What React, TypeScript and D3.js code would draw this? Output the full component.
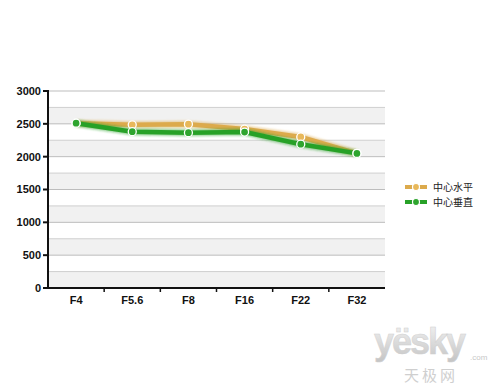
import React from "react";
import * as d3 from "d3";

const categories = ["F4", "F5.6", "F8", "F16", "F22", "F32"];
const horizontal = [2510, 2485, 2495, 2420, 2300, 2050];
const vertical = [2510, 2380, 2365, 2375, 2190, 2050];
const yTicks = [0, 500, 1000, 1500, 2000, 2500, 3000];
const seriesNames = ["中心水平", "中心垂直"];

const W = 500, H = 392;
const left = 48, right = 385, top = 91, bottom = 288;

export default function App() {
  const x = d3.scaleBand<string>().domain(categories).range([left, right]);
  const y = d3.scaleLinear().domain([0, 3000]).range([bottom, top]);
  const line = d3.line<number>()
    .x((_, i) => (x(categories[i]) as number) + x.bandwidth() / 2)
    .y((d) => y(d));
  const series = [
    { name: seriesNames[0], values: horizontal, color: "#dcaa4c", marker: "#e8b85a" },
    { name: seriesNames[1], values: vertical, color: "#27a127", marker: "#2ea52e" },
  ];
  const bands = d3.range(0, 3000, 250);
  const font = "Arial, 'Liberation Sans', sans-serif";
  return (
    <svg width={W} height={H} style={{ position: "absolute", left: 0, top: 0, background: "#fff" }}>
      <defs>
        <linearGradient id="wm" x1="0" y1="0" x2="0" y2="1">
          <stop offset="0" stopColor="#f4f4f4" />
          <stop offset="1" stopColor="#c4c4c4" />
        </linearGradient>
        <filter id="glow" x="-10%" y="-50%" width="120%" height="200%">
          <feGaussianBlur stdDeviation="1.2" />
        </filter>
      </defs>
      {bands.map((b, i) => (
        <rect key={"b" + b} x={left} width={right - left} y={y(b + 250)} height={y(b) - y(b + 250)}
          fill={i % 2 === 0 ? "#f1f1f1" : "#ffffff"} />
      ))}
      {d3.range(250, 3001, 250).map((v) => (
        <line key={"g" + v} x1={left} x2={right} y1={y(v)} y2={y(v)} stroke={v % 500 === 0 ? "#bdbdbd" : "#cfcfcf"} strokeWidth={1} />
      ))}
      {series.map((s) => (
        <g key={s.name}>
          <path d={line(s.values) || ""} fill="none" stroke={s.color} strokeOpacity={0.5} strokeWidth={7} filter="url(#glow)" />
          <path d={line(s.values) || ""} fill="none" stroke={s.color} strokeWidth={4.5} strokeLinejoin="round" />
        </g>
      ))}
      {series.map((s) => (
        <g key={s.name + "m"}>
          {s.values.map((v, i) => (
            <circle key={i} cx={(x(categories[i]) as number) + x.bandwidth() / 2} cy={y(v)} r={4}
              fill={s.marker} stroke="#fff" strokeWidth={1.3} />
          ))}
        </g>
      ))}
      <line x1={left} x2={left} y1={top - 1} y2={bottom + 1} stroke="#111" strokeWidth={2} />
      <line x1={left - 1} x2={right} y1={bottom} y2={bottom} stroke="#111" strokeWidth={2} />
      {yTicks.map((t) => (
        <g key={"yt" + t}>
          <line x1={left - 5} x2={left} y1={y(t)} y2={y(t)} stroke="#111" strokeWidth={2} />
          <text x={left - 7} y={y(t)} dy="0.35em" textAnchor="end" fontFamily={font} fontWeight="bold" fontSize={11} fill="#111">{t}</text>
        </g>
      ))}
      {categories.map((c, i) => (
        <g key={"xt" + c}>
          {i > 0 && <line x1={x(c) as number} x2={x(c) as number} y1={bottom} y2={bottom + 4} stroke="#111" strokeWidth={1.5} />}
          <text x={(x(c) as number) + x.bandwidth() / 2} y={bottom + 16} textAnchor="middle" fontFamily={font} fontWeight="bold" fontSize={11} fill="#111">{c}</text>
        </g>
      ))}
      {series.map((s, i) => (
        <g key={"lg" + s.name} transform={`translate(405, ${187 + i * 15})`}>
          <line x1={0} x2={22} y1={0} y2={0} stroke={s.color} strokeWidth={4} />
          <circle cx={11} cy={0} r={3.5} fill={s.marker} stroke="#fff" strokeWidth={1.2} />
          <text x={28} y={0} dy="0.35em" fontFamily="'Noto Sans CJK SC', sans-serif" fontSize={10} fill="#222">{s.name}</text>
        </g>
      ))}
      <g>
        <text x={374} y={354} fontFamily="Arial, sans-serif" fontWeight="bold" fontSize={36} fill="url(#wm)" stroke="#d0d0d0" strokeWidth={0.5} letterSpacing={-2}>yësky</text>
        <text x={470} y={360} fontFamily="Arial, sans-serif" fontSize={8} fill="#c8c8c8">.com</text>
        <text x={404} y={381} fontFamily="'Noto Sans CJK SC', sans-serif" fontSize={15} fill="#cfcfcf" letterSpacing={3}>天极网</text>
      </g>
    </svg>
  );
}
